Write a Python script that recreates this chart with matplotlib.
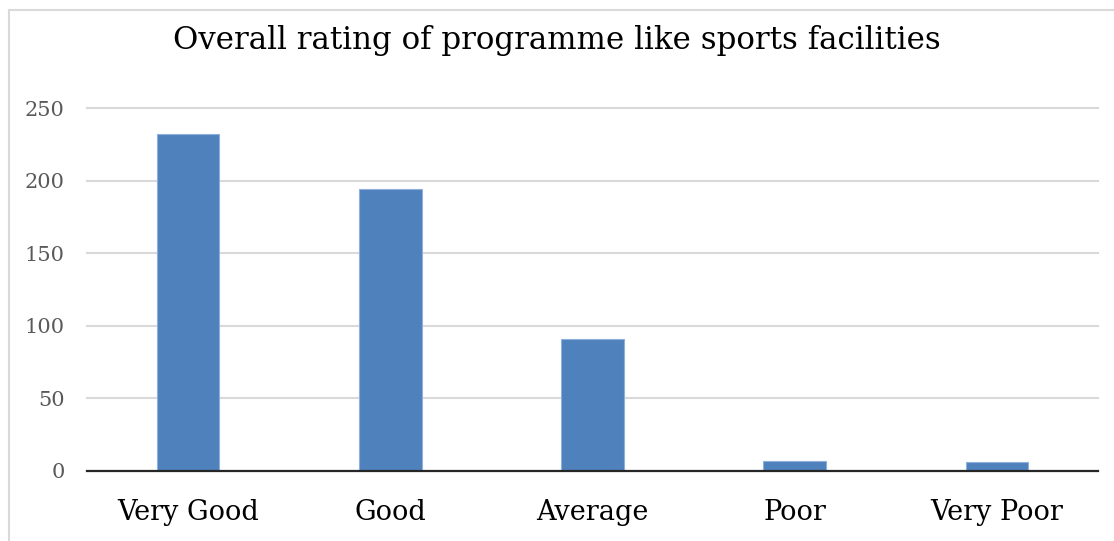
import matplotlib.pyplot as plt
from matplotlib.patches import Rectangle

categories = ['Very Good', 'Good', 'Average', 'Poor', 'Very Poor']
counts = [232, 194, 91, 7, 6]
yticks = [0, 50, 100, 150, 200, 250]

plt.rcParams['font.family'] = ['DejaVu Serif']

fig = plt.figure(figsize=(11.14, 5.41), dpi=100)
ax = fig.add_axes([87/1114, 1-471/541, (1098-87)/1114, (471-108)/541])

x = range(len(categories))
ax.bar(x, counts, width=0.31, color='#4f81bd', edgecolor='#8eb0db', linewidth=0.8, zorder=3)

ax.set_xlim(-0.5, len(categories)-0.5)
ax.set_ylim(0, 250)
ax.set_yticks(yticks)
ax.set_yticklabels([str(v) for v in yticks], color='#595959', fontsize=15)
ax.set_xticks(list(x))
ax.set_xticklabels(categories, fontsize=19.5, color='black')
ax.tick_params(axis='both', length=0)
ax.tick_params(axis='y', pad=16)
ax.tick_params(axis='x', pad=20)

ax.grid(axis='y', color='#d9d9d9', linewidth=1.5, zorder=0)
for s in ['top', 'right', 'left']:
    ax.spines[s].set_visible(False)
ax.spines['bottom'].set_color('#262626')
ax.spines['bottom'].set_linewidth(1.6)
ax.spines['bottom'].set_zorder(4)
for gl in ax.get_ygridlines():
    gl.set_clip_on(False)

fig.text(557/1114, 1-40/541, 'Overall rating of programme like sports facilities',
         ha='center', va='center', fontsize=22.2, color='black')

# chart frame, only partly inside the picture
fig.patches.append(Rectangle((9/1114, -0.1), 1.2, 1.1-10/541, transform=fig.transFigure,
                             fill=False, edgecolor='#d9d9d9', linewidth=1.5))

fig.savefig('out.png', dpi=100)
